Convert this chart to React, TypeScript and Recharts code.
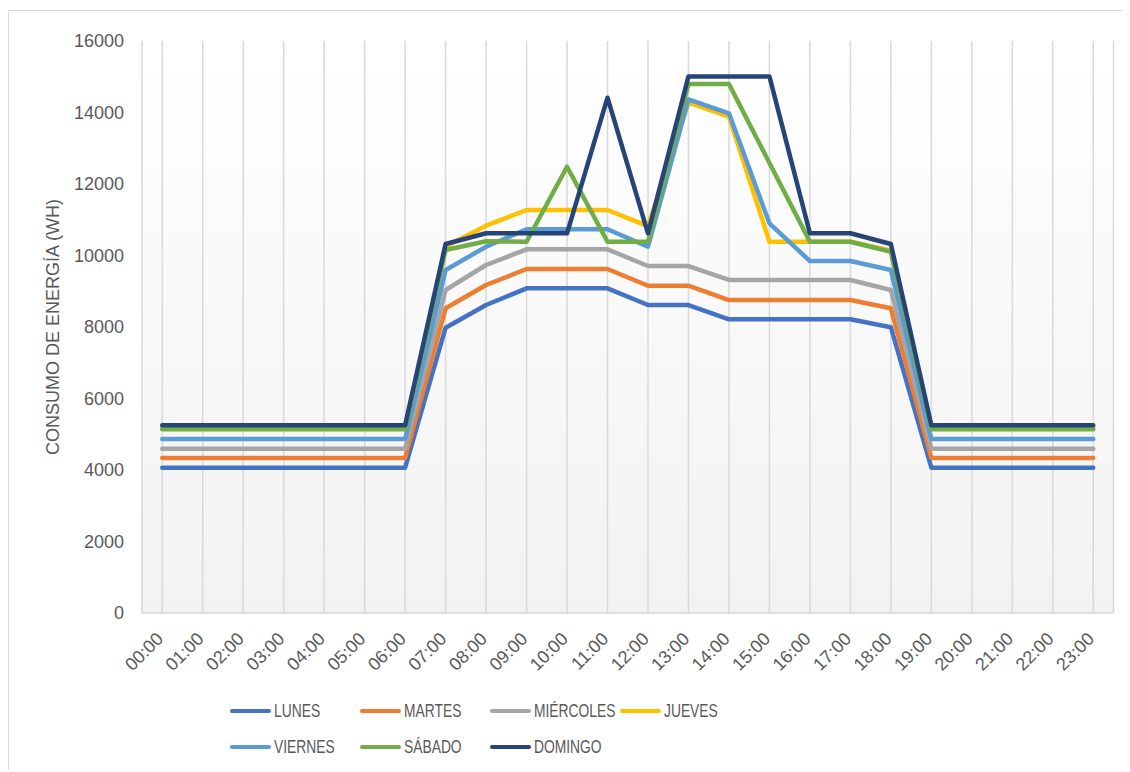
import { CartesianGrid, Label, Line, LineChart, XAxis, YAxis } from "recharts";

const FONT = "'Liberation Sans', Arial, sans-serif";
const TEXT = "#595959";
const GRID = "#d9d9d9";

const HORAS = [
  "00:00", "01:00", "02:00", "03:00", "04:00", "05:00", "06:00", "07:00",
  "08:00", "09:00", "10:00", "11:00", "12:00", "13:00", "14:00", "15:00",
  "16:00", "17:00", "18:00", "19:00", "20:00", "21:00", "22:00", "23:00",
];

const Y_TICKS = [0, 2000, 4000, 6000, 8000, 10000, 12000, 14000, 16000];

const LUNES = [
  4064, 4064, 4064, 4064, 4064, 4064, 4064, 7980, 8615, 9082, 9082, 9082,
  8615, 8615, 8215, 8215, 8215, 8215, 7995, 4064, 4064, 4064, 4064, 4064,
];
const MARTES = [
  4336, 4336, 4336, 4336, 4336, 4336, 4336, 8523, 9175, 9622, 9622, 9622,
  9155, 9155, 8755, 8755, 8755, 8755, 8523, 4336, 4336, 4336, 4336, 4336,
];
const MIERCOLES = [
  4596, 4596, 4596, 4596, 4596, 4596, 4596, 9035, 9734, 10173, 10173, 10173,
  9706, 9706, 9315, 9315, 9315, 9315, 9035, 4596, 4596, 4596, 4596, 4596,
];
const JUEVES = [
  5200, 5200, 5200, 5200, 5200, 5200, 5200, 10250, 10834, 11273, 11273, 11273,
  10820, 14274, 13883, 10386, 10386, 10386, 10140, 5200, 5200, 5200, 5200, 5200,
];
const VIERNES = [
  4867, 4867, 4867, 4867, 4867, 4867, 4867, 9594, 10246, 10733, 10733, 10733,
  10246, 14369, 13978, 10900, 9846, 9846, 9594, 4867, 4867, 4867, 4867, 4867,
];
const SABADO = [
  5138, 5138, 5138, 5138, 5138, 5138, 5138, 10154, 10400, 10386, 12484, 10386,
  10386, 14797, 14797, 12590, 10386, 10386, 10106, 5138, 5138, 5138, 5138, 5138,
];
const DOMINGO = [
  5250, 5250, 5250, 5250, 5250, 5250, 5250, 10322, 10621, 10621, 10621, 14414,
  10621, 15010, 15010, 15010, 10621, 10621, 10322, 5250, 5250, 5250, 5250, 5250,
];

const SERIES = [
  { key: "lunes", label: "LUNES", color: "#4472C4", values: LUNES },
  { key: "martes", label: "MARTES", color: "#ED7D31", values: MARTES },
  { key: "miercoles", label: "MIÉRCOLES", color: "#A5A5A5", values: MIERCOLES },
  { key: "jueves", label: "JUEVES", color: "#FFC000", values: JUEVES },
  { key: "viernes", label: "VIERNES", color: "#5B9BD5", values: VIERNES },
  { key: "sabado", label: "SÁBADO", color: "#70AD47", values: SABADO },
  { key: "domingo", label: "DOMINGO", color: "#264478", values: DOMINGO },
];

const data = HORAS.map((hora, i) => {
  const row: Record<string, number | string> = { hora };
  SERIES.forEach((s) => {
    row[s.key] = s.values[i];
  });
  return row;
});

// etiquetas del eje X giradas 45°
function HoraTick(props: any) {
  const { x, y, payload } = props;
  const tx = x + 2;
  const ty = y + 27;
  return (
    <text
      x={tx}
      y={ty}
      transform={`rotate(-45, ${tx}, ${ty})`}
      textAnchor="end"
      fontSize={18}
      fontFamily={FONT}
      fill={TEXT}
    >
      {payload.value}
    </text>
  );
}

function YTitle() {
  const cx = 44.5;
  const cy = 319;
  return (
    <text
      x={cx}
      y={cy}
      transform={`rotate(-90, ${cx}, ${cy})`}
      textAnchor="middle"
      dominantBaseline="central"
      fontSize={18}
      fontFamily={FONT}
      fill={TEXT}
    >
      CONSUMO DE ENERGÍA (WH)
    </text>
  );
}

function Leyenda() {
  return (
    <>
      {SERIES.map((s, i) => {
        const col = i < 4 ? i : i - 4;
        const row = i < 4 ? 0 : 1;
        return (
          <div
            key={s.key}
            style={{
              position: "absolute",
              left: 222 + col * 130,
              top: 692 + row * 36,
              height: 22,
              display: "flex",
              alignItems: "center",
              whiteSpace: "nowrap",
            }}
          >
            <span
              style={{
                display: "inline-block",
                width: 41,
                height: 4.5,
                borderRadius: 3,
                background: s.color,
              }}
            />
            <span
              style={{
                display: "inline-block",
                marginLeft: 3,
                fontSize: 17.5,
                fontFamily: FONT,
                color: TEXT,
                transform: "scaleX(0.79)",
                transformOrigin: "left center",
              }}
            >
              {s.label}
            </span>
          </div>
        );
      })}
    </>
  );
}

export default function App() {
  return (
    <div style={{ position: "relative", width: 1114, height: 762, background: "#fff" }}>
      <div
        style={{
          position: "absolute",
          left: 0,
          top: 2,
          width: 1114,
          height: 760,
          borderTop: `1.5px solid ${GRID}`,
          borderLeft: `1.5px solid ${GRID}`,
          boxSizing: "border-box",
        }}
      />
      <div style={{ position: "absolute", left: 0, top: 0 }}>
        <LineChart
          width={1114}
          height={690}
          data={data}
          margin={{ top: 33, right: 8.5, left: 0, bottom: 0 }}
        >
          <defs>
            <linearGradient id="plotBg" x1="0" y1="0" x2="0" y2="1">
              <stop offset="0%" stopColor="#ffffff" />
              <stop offset="100%" stopColor="#f2f2f2" />
            </linearGradient>
          </defs>
          <CartesianGrid
            horizontal={false}
            vertical
            stroke={GRID}
            strokeWidth={1.5}
            fill="url(#plotBg)"
            fillOpacity={1}
          />
          <XAxis
            dataKey="hora"
            height={85}
            padding={{ left: 20.25, right: 20.25 }}
            interval={0}
            tickLine={false}
            tickSize={0}
            tickMargin={0}
            axisLine={{ stroke: GRID, strokeWidth: 1.5 }}
            tick={<HoraTick />}
          />
          <YAxis
            width={134}
            domain={[0, 16000]}
            ticks={Y_TICKS}
            interval={0}
            axisLine={false}
            tickLine={false}
            tickSize={0}
            tickMargin={18}
            tick={{ fontSize: 18, fill: TEXT, fontFamily: FONT }}
          >
            <Label content={() => <YTitle />} />
          </YAxis>
          {SERIES.map((s) => (
            <Line
              key={s.key}
              type="linear"
              dataKey={s.key}
              name={s.label}
              stroke={s.color}
              strokeWidth={4.5}
              strokeLinecap="round"
              strokeLinejoin="round"
              dot={false}
              activeDot={false}
              isAnimationActive={false}
            />
          ))}
        </LineChart>
      </div>
      <Leyenda />
    </div>
  );
}
